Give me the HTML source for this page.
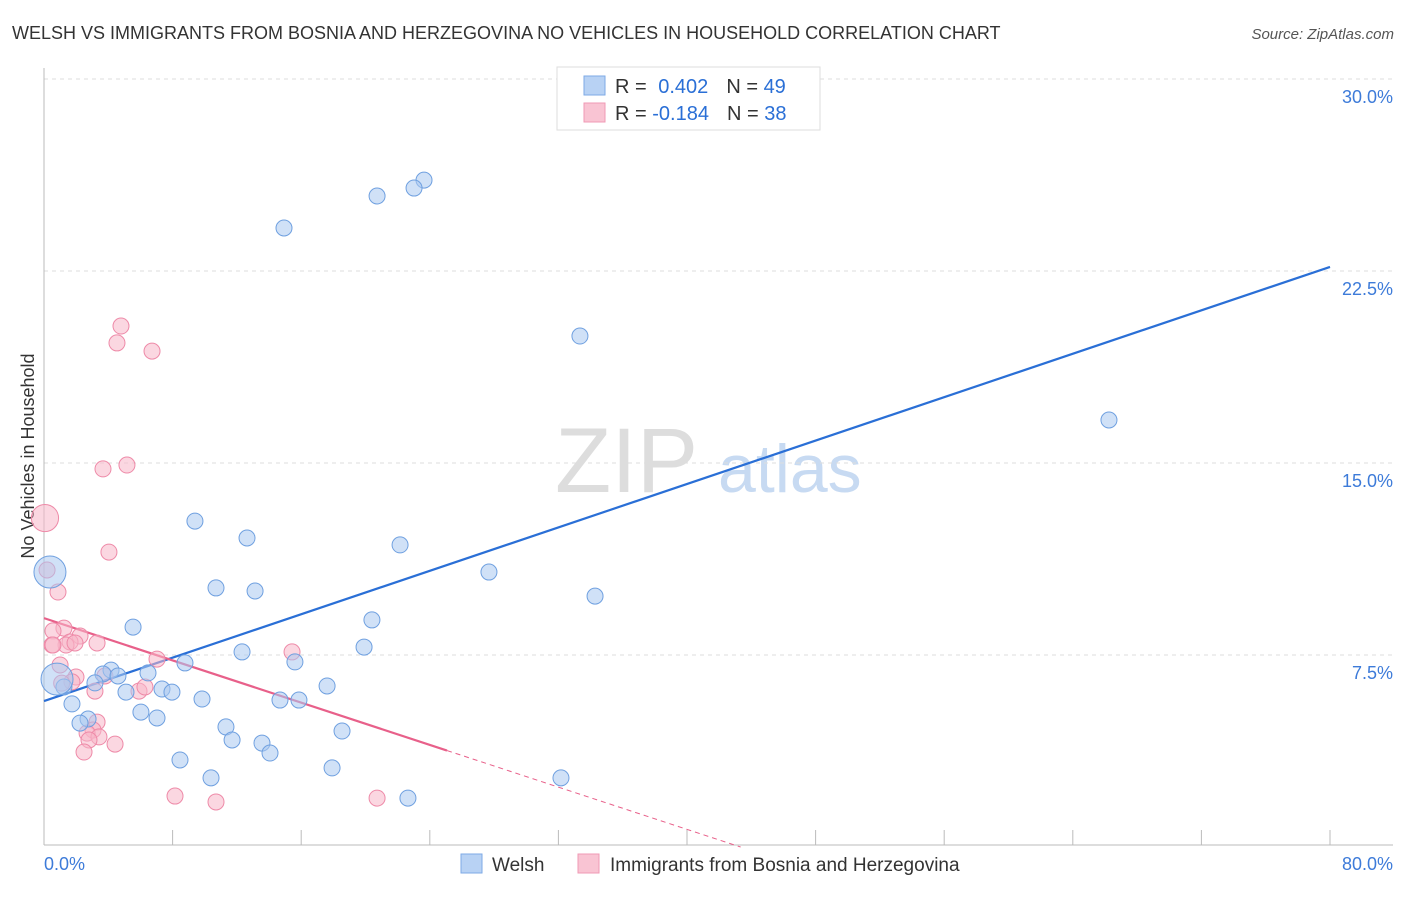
<!DOCTYPE html>
<html><head><meta charset="utf-8"><style>
body{margin:0;background:#fff;font-family:"Liberation Sans",sans-serif;}
svg text{font-family:"Liberation Sans",sans-serif;}
</style></head><body>
<svg id="chart" width="1406" height="892" viewBox="0 0 1406 892">
<text x="12" y="39" font-size="18" fill="#333">WELSH VS IMMIGRANTS FROM BOSNIA AND HERZEGOVINA NO VEHICLES IN HOUSEHOLD CORRELATION CHART</text>
<text x="1394" y="39" font-size="15" fill="#555" font-style="italic" text-anchor="end">Source: ZipAtlas.com</text>
<text x="34" y="456" font-size="18" fill="#333" text-anchor="middle" transform="rotate(-90 34 456)">No Vehicles in Household</text>
<g><text x="555" y="492" font-size="92" fill="#ddd" font-family="Liberation Serif">ZIP</text><text x="718" y="492" font-size="68" fill="#c7daf2">atlas</text></g>
<g id="grid"></g><g id="axes"></g><g id="lines"></g><g id="pts"></g>
<g>
<rect x="557" y="67" width="263" height="63" fill="#fff" stroke="#ddd"/>
<rect x="584" y="76" width="21" height="19" fill="#b8d2f4" stroke="#7eaae6"/>
<rect x="584" y="103" width="21" height="19" fill="#f9c4d3" stroke="#f09ab4"/>
<text x="615" y="93" font-size="20" fill="#333">R = <tspan fill="#2a6fd6" dx="6">0.402</tspan><tspan dx="18" fill="#333">N = </tspan><tspan fill="#2a6fd6">49</tspan></text>
<text x="615" y="120" font-size="20" fill="#333">R = <tspan fill="#2a6fd6">-0.184</tspan><tspan dx="18" fill="#333">N = </tspan><tspan fill="#2a6fd6">38</tspan></text>
</g>
<g>
<rect x="461" y="854" width="21" height="19" fill="#b8d2f4" stroke="#7eaae6"/>
<text x="492" y="871" font-size="19" fill="#333">Welsh</text>
<rect x="578" y="854" width="21" height="19" fill="#f9c4d3" stroke="#f09ab4"/>
<text x="610" y="871" font-size="19" fill="#333">Immigrants from Bosnia and Herzegovina</text>
</g>
</svg>
<script>
const xTicks=[0,80];
const yTicks=[7.5,15,22.5,30];
const welshX=[23.64,23.02,20.72,14.93,33.34,66.25,9.39,12.63,22.15,27.68,34.28,10.70,13.13,5.54,20.40,12.32,19.91,8.77,15.61,4.17,3.67,4.60,6.47,3.17,1.24,5.10,7.34,7.96,9.83,14.68,15.86,17.61,1.74,6.03,7.03,2.74,2.24,11.32,11.70,18.54,13.56,14.06,8.46,10.39,17.92,32.16,22.64,0.37,0.81];
const welshY=[26.05,25.74,25.43,24.18,19.96,16.68,12.73,12.07,11.80,10.74,9.80,10.12,10.00,8.59,8.87,7.62,7.81,7.19,7.23,6.91,6.76,6.68,6.80,6.41,6.25,6.05,6.17,6.05,5.78,5.74,5.74,6.29,5.59,5.27,5.04,5.00,4.84,4.69,4.18,4.53,4.06,3.67,3.40,2.70,3.09,2.70,1.91,10.74,6.56];
const welshSize=[1,1,1,1,1,1,1,1,1,1,1,1,1,1,1,1,1,1,1,1,1,1,1,1,1,1,1,1,1,1,1,1,1,1,1,1,1,1,1,1,1,1,1,1,1,1,1,2,2];
const bosX=[4.79,4.54,6.72,3.67,5.16,0.06,4.04,0.19,0.87,1.24,0.56,2.24,1.62,1.37,0.50,1.93,3.30,1.00,7.03,15.43,1.99,1.74,3.79,5.91,3.17,6.28,3.30,3.05,2.68,3.42,2.80,4.42,2.49,8.15,10.70,20.72,0.56,1.10];
const bosY=[20.35,19.69,19.37,14.77,14.92,12.85,11.52,10.82,9.96,8.55,8.44,8.24,8.01,7.89,7.89,7.97,7.97,7.11,7.34,7.62,6.64,6.45,6.68,6.09,6.09,6.25,4.88,4.57,4.45,4.30,4.18,4.02,3.71,1.99,1.76,1.91,7.89,6.40];
const bosSize=[1,1,1,1,1,1.7,1,1,1,1,1,1,1,1,1,1,1,1,1,1,1,1,1,1,1,1,1,1,1,1,1,1,1,1,1,1,1,1];
const welshTrend=[5.70,22.66]; // y at x=0 and x=80
const bosTrend=[8.94,-0.2063]; // intercept, slope
const bosSolidEnd=25.07;
const X0=44,X1=1330,Y0=847,Y1=79;
const sx=v=>X0+(v-0)/80*(X1-X0);
const sy=v=>Y0-(v/30)*(Y0-Y1);
const NS="http://www.w3.org/2000/svg";
function mk(tag,parent,attrs){const e=document.createElementNS(NS,tag);for(const k in attrs)e.setAttribute(k,attrs[k]);document.getElementById(parent).appendChild(e);return e;}
yTicks.forEach(t=>{
 const l=mk('line','grid',{x1:X0,x2:1393,y1:sy(t),y2:sy(t),stroke:'#ddd','stroke-dasharray':'4 4'});
 
 
 const tx=mk('text','grid',{x:1393,y:sy(t)+24,'font-size':18,fill:'#3d7bd9','text-anchor':'end'});
 tx.textContent=t.toFixed(1)+'%';
 
 
});
mk('line','axes',{x1:X0,x2:1393,y1:845,y2:845,stroke:'#bbb'});
const ya=mk('line','axes',{x1:X0,x2:X0,y1:68,y2:845,stroke:'#bbb'});


for(let i=1;i<=10;i++){const v=i*8;const tk=mk('line','axes',{x1:sx(v),x2:sx(v),y1:830,y2:845,stroke:'#bbb'});
 
 }
xTicks.forEach((t,i)=>{const tx=mk('text','axes',{x:i==0?X0:1393,y:870,'font-size':18,fill:'#3d7bd9','text-anchor':i==0?'start':'end'});
 tx.textContent=t.toFixed(1)+'%';
 
 });
function drawPts(xs,ys,ss,fill,stroke,name){xs.forEach((x,i)=>{const c=mk('circle','pts',{cx:sx(x),cy:sy(ys[i]),r:8*ss[i],fill:fill,'fill-opacity':0.55,stroke:stroke,'stroke-width':1});
 
 });}
drawPts(bosX,bosY,bosSize,'#f7b6c8','#ee8aa8','bosnia-point');
drawPts(welshX,welshY,welshSize,'#a9c8f0','#6fa0e0','welsh-point');
const wl=mk('line','lines',{x1:sx(0),y1:sy(welshTrend[0]),x2:sx(80),y2:sy(welshTrend[1]),stroke:'#2a6fd6','stroke-width':2.2});


const pl=mk('line','lines',{x1:sx(0),y1:sy(bosTrend[0]),x2:sx(bosSolidEnd),y2:sy(bosTrend[0]+bosTrend[1]*bosSolidEnd),stroke:'#e8608a','stroke-width':2.2});


const xz=-bosTrend[0]/bosTrend[1];
const pd=mk('line','lines',{x1:sx(bosSolidEnd),y1:sy(bosTrend[0]+bosTrend[1]*bosSolidEnd),x2:sx(xz),y2:sy(0),stroke:'#e8608a','stroke-width':1,'stroke-dasharray':'5 4'});


</script>
</body></html>
